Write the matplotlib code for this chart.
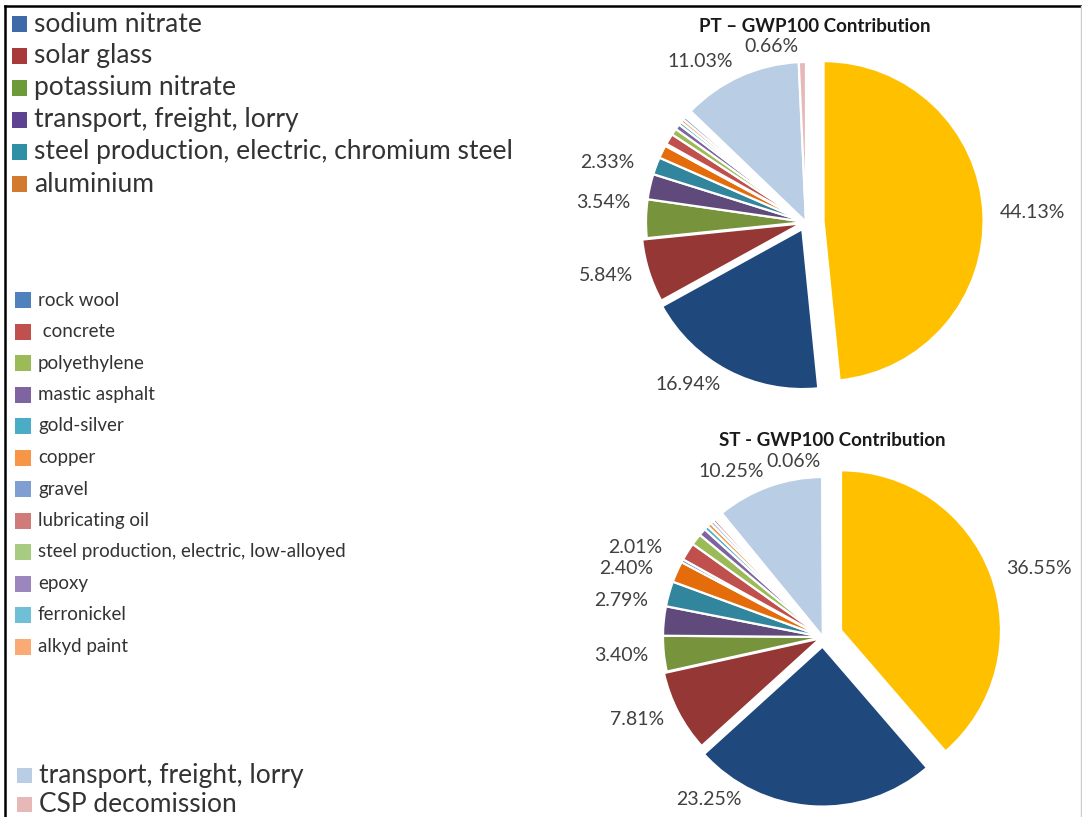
import numpy as np
import matplotlib.pyplot as plt
from matplotlib.patches import Rectangle

W, H = 1082, 817
plt.rcParams['font.family'] = ['Lato', 'DejaVu Sans']

# slices, clockwise from 12 o'clock
materials = ['remaining processes', 'sodium nitrate', 'solar glass', 'potassium nitrate',
             'transport, freight, lorry', 'steel production, electric, chromium steel',
             'aluminium', 'rock wool', 'concrete', 'polyethylene', 'mastic asphalt',
             'gold-silver', 'copper', 'gravel', 'lubricating oil',
             'steel production, electric, low-alloyed', 'epoxy', 'ferronickel',
             'alkyd paint', 'transport, freight, lorry', 'CSP decomission']

pt_share = [44.13, 16.94, 5.84, 3.54, 2.33, 1.6, 1.2, 0.2, 1.0, 0.6, 0.5,
            0.3, 0.3, 0.3, 0.2, 0.2, 0.1, 0.1, 0.1, 11.03, 0.66]
st_share = [36.55, 23.25, 7.81, 3.40, 2.79, 2.40, 2.01, 0.3, 1.7, 1.1, 0.7,
            0.4, 0.4, 0.3, 0.3, 0.2, 0.2, 0.2, 0.2, 10.25, 0.06]

# which slices carry a percentage label
pt_labelled = [0, 1, 2, 3, 4, 19, 20]
st_labelled = [0, 1, 2, 3, 4, 5, 6, 19, 20]

legend_top = ['sodium nitrate', 'solar glass', 'potassium nitrate',
              'transport, freight, lorry', 'steel production, electric, chromium steel',
              'aluminium']
legend_mid = ['rock wool', ' concrete', 'polyethylene', 'mastic asphalt', 'gold-silver',
              'copper', 'gravel', 'lubricating oil', 'steel production, electric, low-alloyed',
              'epoxy', 'ferronickel', 'alkyd paint']
legend_bottom = ['transport, freight, lorry', 'CSP decomission']

wedge_colors = ['#FFC000', '#1F497D', '#953735', '#77933C', '#604A7B', '#31859C',
                '#E46C0A', '#4F81BD', '#C0504D', '#9BBB59', '#8064A2', '#4BACC6',
                '#F79646', '#7F9FD3', '#D07A79', '#A8CB82', '#9C86BE', '#6FC0D6',
                '#F9AA75', '#B9CDE5', '#E6B9B8']
top_colors = ['#3E6AA8', '#A83A3A', '#6E9B3A', '#5E4190', '#2F8FA4', '#D27A30']
mid_colors = wedge_colors[7:19]
bottom_colors = ['#B9CDE5', '#E6B9B8']

TXT = '#404040'


def fx(x):
    return x / W


def fy(y):
    return 1 - y / H


def draw_pie(cx, cy, r, values, labelled, explode, title, title_xy, nudges):
    side = 2.6 * r
    ax = fig.add_axes([fx(cx - side / 2), fy(cy + side / 2), side / W, side / H])
    wedges, _ = ax.pie(values, colors=wedge_colors, startangle=90, counterclock=False,
                       explode=explode, radius=1,
                       wedgeprops=dict(edgecolor='white', linewidth=1.6))
    ax.set_xlim(-1.3, 1.3)
    ax.set_ylim(-1.3, 1.3)
    ax.set_aspect('equal')
    ax.axis('off')
    for i in labelled:
        w = wedges[i]
        mid = np.deg2rad((w.theta1 + w.theta2) / 2)
        rr = 1.1 + explode[i]
        x, y = rr * np.cos(mid), rr * np.sin(mid)
        dx, dy = nudges.get(i, (0, 0))
        c = np.cos(mid)
        ha = 'left' if c > 0.15 else ('right' if c < -0.15 else 'center')
        ax.text(x + dx, y + dy, f'{values[i]:.2f}%', ha=ha, va='center',
                fontsize=14, color=TXT, clip_on=False)
    fig.text(fx(title_xy[0]), fy(title_xy[1]), title, ha='center', va='center',
             fontsize=13.5, fontweight='bold', color='#1a1a1a')


def draw_legend(entries, colors, x0, y0, step, box, size, gap):
    for k, (name, col) in enumerate(zip(entries, colors)):
        y = y0 + k * step
        fig.patches.append(Rectangle((fx(x0), fy(y + box / 2)), box / W, box / H,
                                     transform=fig.transFigure, facecolor=col,
                                     edgecolor='none'))
        fig.text(fx(x0 + box + gap), fy(y), name, ha='left', va='center',
                 fontsize=size, color='#333333')


fig = plt.figure(figsize=(W / 100, H / 100), dpi=100)

# frame
fig.add_artist(plt.Line2D([fx(5), fx(5)], [fy(6), 0], transform=fig.transFigure,
                          color='black', linewidth=1.8))
fig.add_artist(plt.Line2D([fx(5), fx(1081)], [fy(6), fy(6)], transform=fig.transFigure,
                          color='black', linewidth=1.8))
fig.add_artist(plt.Line2D([fx(1081), fx(1081)], [fy(6), 0], transform=fig.transFigure,
                          color='#cccccc', linewidth=1.0))

pt_explode = [0.11, 0.05, 0.03] + [0.0] * 18
st_explode = [0.12, 0.06, 0.02] + [0.0] * 18

draw_pie(806, 222, 160, pt_share, pt_labelled, pt_explode,
         'PT – GWP100 Contribution', (815, 26),
         {3: (0, 0.1), 4: (0, 0.13), 20: (-0.19, 0)})
draw_pie(823, 637, 160, st_share, st_labelled, st_explode,
         'ST - GWP100 Contribution', (832, 440),
         {1: (-0.64, 0.14), 4: (0, 0.12), 5: (0, 0.13), 6: (0, 0.11), 20: (-0.18, 0)})

draw_legend(legend_top, top_colors, 12, 24, 32, 15, 19, 7)
draw_legend(legend_mid, mid_colors, 15, 300, 31.5, 16, 13.5, 7)
draw_legend(legend_bottom, bottom_colors, 17, 775, 29, 15, 19, 7)

fig.savefig('out.png', dpi=100, facecolor='white')
